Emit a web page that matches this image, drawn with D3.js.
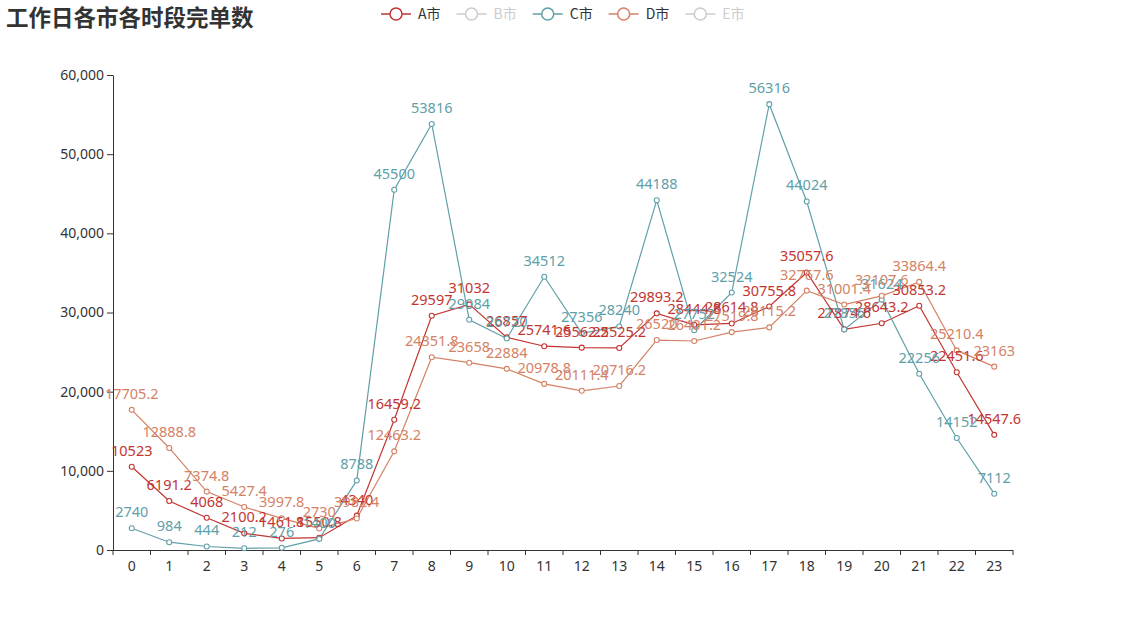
<!DOCTYPE html>
<html><head><meta charset="utf-8">
<script src="https://cdn.jsdelivr.net/npm/d3@7"></script>
<style>
html,body{margin:0;padding:0;background:#fff;}
svg{display:block;font-family:"Noto Sans","Noto Sans CJK SC",sans-serif;}
</style></head>
<body><svg id="c" width="1125" height="625"></svg>
<script>
const titleText = "工作日各市各时段完单数";
const hours = ["0","1","2","3","4","5","6","7","8","9","10","11","12","13","14","15","16","17","18","19","20","21","22","23"];
const cityNames = ["A市","B市","C市","D市","E市"];
const cityColors = ["#c23531","#2f4554","#61a0a8","#d48265","#91c7ae"];
const cityVisible = [true,false,true,true,false];
const cityA = [10523,6191.2,4068,2100.2,1461.8,1550.8,4340,16459.2,29597,31032,26857,25741.6,25562.2,25525.2,29893.2,28444.8,28614.8,30755.8,35057.6,27874.6,28643.2,30853.2,22451.6,14547.6];
const cityB = [];
const cityC = [2740,984,444,212,276,1400,8788,45500,53816,29084,26720,34512,27356,28240,44188,27752,32524,56316,44024,27856,31624,22256,14152,7112];
const cityD = [17705.2,12888.8,7374.8,5427.4,3997.8,2730,3982.4,12463.2,24351.8,23658,22884,20978.8,20111.4,20716.2,26520,26401.2,27519.8,28115.2,32767.6,31001.4,32107.6,33864.4,25210.4,23163];
const cityE = [];
const yTicks = [0,10000,20000,30000,40000,50000,60000];

(function(){
const seriesData = [cityA, cityB, cityC, cityD, cityE];
const svg = d3.select("#c");
const pL = 113, pR = 1013, pT = 75, pB = 550;

const x = d3.scaleBand().domain(hours).range([pL, pR]);
const y = d3.scaleLinear().domain([0, 60000]).range([pB, pT]);

svg.append("text").attr("x", 6).attr("y", 26)
  .attr("font-family", "'Noto Sans CJK SC',sans-serif")
  .attr("font-size", 22.5).attr("font-weight", "bold").attr("fill", "#333")
  .text(titleText);

let lx = 381;
cityNames.forEach((n, i) => {
  const col = cityVisible[i] ? cityColors[i] : "#ccc";
  const g = svg.append("g");
  g.append("line").attr("x1", lx).attr("x2", lx + 30).attr("y1", 14).attr("y2", 14)
    .attr("stroke", col).attr("stroke-width", 1.5);
  g.append("circle").attr("cx", lx + 15).attr("cy", 14).attr("r", 6)
    .attr("fill", "#fff").attr("stroke", col).attr("stroke-width", 1.5);
  const t = g.append("text").attr("x", lx + 37).attr("y", 19)
    .attr("font-family", "'Noto Sans CJK SC',sans-serif")
    .attr("font-size", 14).attr("fill", cityVisible[i] ? "#333" : "#ccc").text(n);
  lx = lx + 37 + t.node().getComputedTextLength() + 16;
});

const xAxis = d3.axisBottom(x).tickSize(0).tickSizeOuter(0);
const gx = svg.append("g").attr("transform", `translate(0,${pB})`).call(xAxis);
gx.select(".domain").attr("stroke", "#333").attr("d", `M${pL},0.5H${pR}`);
const bounds = hours.map(h => x(h)).concat([pR]);
gx.selectAll(".bt").data(bounds).enter().append("line").attr("class","bt")
  .attr("x1", d => d).attr("x2", d => d).attr("y1", 0).attr("y2", 5).attr("stroke", "#333");
gx.selectAll(".tick text").attr("font-size", 14).attr("fill", "#333").attr("y", 8).attr("dy", "0.9em")
  .attr("font-family", "'Noto Sans',sans-serif");

const yAxis = d3.axisLeft(y).tickValues(yTicks).tickFormat(d3.format(",")).tickSize(6).tickSizeOuter(0);
const gy = svg.append("g").attr("transform", `translate(${pL},0)`).call(yAxis);
gy.select(".domain").attr("stroke", "#333");
gy.selectAll(".tick line").attr("stroke", "#333");
gy.selectAll(".tick text").attr("font-size", 14).attr("fill", "#333").attr("x", -9)
  .attr("font-family", "'Noto Sans',sans-serif");

const cx = h => x(h) + x.bandwidth() / 2;
const line = d3.line().x((d, i) => cx(hours[i])).y(d => y(d));

const shown = seriesData.map((d, i) => ({d, i})).filter(s => cityVisible[s.i] && s.d.length);
shown.forEach(s => {
  svg.append("path").datum(s.d).attr("d", line).attr("fill", "none")
    .attr("stroke", cityColors[s.i]).attr("stroke-width", 1.2);
});
shown.forEach(s => {
  svg.append("g").selectAll("circle").data(s.d).enter().append("circle")
    .attr("cx", (d, i) => cx(hours[i])).attr("cy", d => y(d)).attr("r", 2.5)
    .attr("fill", "#fff").attr("stroke", cityColors[s.i]).attr("stroke-width", 1.1);
});
shown.forEach(s => {
  svg.append("g").selectAll("text").data(s.d).enter().append("text")
    .attr("x", (d, i) => cx(hours[i])).attr("y", d => y(d) - 11)
    .attr("text-anchor", "middle").attr("font-size", 14.5).attr("fill", cityColors[s.i])
    .text(d => d);
});
})();
</script></body></html>
